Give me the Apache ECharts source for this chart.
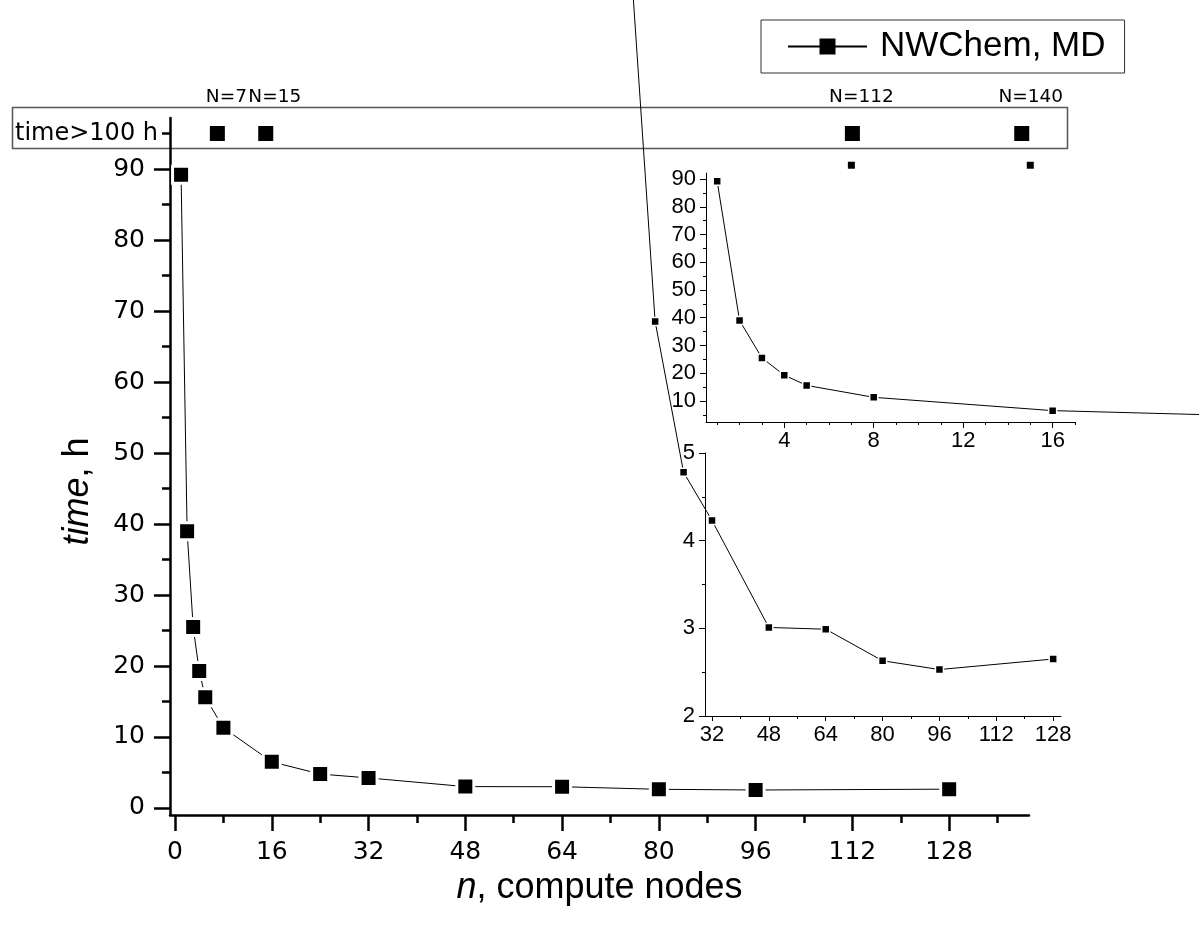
<!DOCTYPE html>
<html>
<head>
<meta charset="utf-8">
<script src="https://cdn.jsdelivr.net/npm/echarts@6/dist/echarts.min.js"></script>
<style>html,body{margin:0;padding:0;background:#fff}#c{width:1199px;height:929px}</style>
</head>
<body>
<div id="c"></div>
<script>
// ---- data ----
const seriesName = 'NWChem, MD';
const nodes = [1, 2, 3, 4, 5, 8, 16, 24, 32, 48, 64, 80, 96, 128];
const hours = [89.2, 39.0, 25.5, 19.3, 15.6, 11.3, 6.5, 4.78, 4.23, 3.01, 2.99, 2.63, 2.53, 2.65];
const overNodes = [7, 15, 112, 140];
const overLabels = ['N=7', 'N=15', 'N=112', 'N=140'];
const overLevel = 95;            // plotting level of the "time>100 h" row
const overTickLabel = 'time>100 h';

const mainXMajor = [0, 16, 32, 48, 64, 80, 96, 112, 128];
const mainXMinor = [8, 24, 40, 56, 72, 88, 104, 120, 136];
const mainYMajor = [0, 10, 20, 30, 40, 50, 60, 70, 80, 90];
const mainYMinor = [5, 15, 25, 35, 45, 55, 65, 75, 85, 95];

const topXMajor = [4, 8, 12, 16];
const topXMinor = [1, 2, 3, 5, 6, 7, 9, 10, 11, 13, 14, 15, 17];
const topYMajor = [10, 20, 30, 40, 50, 60, 70, 80, 90];
const topYMinor = [5, 15, 25, 35, 45, 55, 65, 75, 85];

const botXMajor = [32, 48, 64, 80, 96, 112, 128];
const botXMinor = [40, 56, 72, 88, 104, 120];
const botYMajor = [2, 3, 4, 5];
const botYMinor = [2.5, 3.5, 4.5];

// ---- build ----
const pts = nodes.map((n, i) => [n, hours[i]]);
const overPts = overNodes.map((n, i) => ({ name: overLabels[i], value: [n, overLevel] }));

const DV = 'DejaVu Sans';
const LS = 'Liberation Sans, Arial, sans-serif';

// visible inset frames, plus wider hidden frames with the same scale so lines can run past the frame
const TOP = { left: 706, top: 173, width: 369, height: 249, xmin: 0.5, xmax: 17.0, ymin: 2.4, ymax: 92.2 };
const BOT = { left: 705, top: 453, width: 356, height: 263, xmin: 30.03, xmax: 130.2, ymin: 2, ymax: 5 };
function widen(g, left, right) {
  const k = (g.xmax - g.xmin) / g.width;
  return { left: left, top: g.top, width: right - left, height: g.height,
    xmin: g.xmin - (g.left - left) * k, xmax: g.xmax + (right - g.left - g.width) * k, ymin: g.ymin, ymax: g.ymax };
}
const TOPW = widen(TOP, TOP.left, 1199);
const BOTW = widen(BOT, 0, 1199);

function ax(opts) {
  return {
    type: 'value',
    gridIndex: opts.grid,
    position: opts.position,
    min: opts.min, max: opts.max,
    splitLine: { show: false },
    axisLine: { show: opts.line !== false, onZero: false, lineStyle: { color: '#000', width: opts.lw || 1 } },
    axisTick: { show: true, customValues: opts.ticks, length: opts.tl, lineStyle: { color: '#000', width: opts.lw || 1 } },
    axisLabel: opts.labels ? {
      show: true, customValues: opts.labels, margin: opts.margin, color: '#000',
      fontFamily: opts.font, fontSize: opts.fs,
      formatter: opts.fmt || (v => String(v))
    } : { show: false }
  };
}
function hidden(grid, min, max, position) {
  return { type: 'value', gridIndex: grid, position: position, min: min, max: max, show: false, splitLine: { show: false } };
}

const option = {
  animation: false,
  backgroundColor: '#fff',
  grid: [
    { left: 170, top: 118, width: 859, height: 697 },
    { left: TOP.left, top: TOP.top, width: TOP.width, height: TOP.height },
    { left: BOT.left, top: BOT.top, width: BOT.width, height: BOT.height },
    { left: TOPW.left, top: TOPW.top, width: TOPW.width, height: TOPW.height },
    { left: BOTW.left, top: BOTW.top, width: BOTW.width, height: BOTW.height }
  ],
  xAxis: [
    Object.assign(ax({ grid: 0, position: 'bottom', min: -0.83, max: 141.2, ticks: mainXMajor, tl: 16, lw: 2.5, labels: mainXMajor, margin: 25, font: DV, fs: 25 }), {
      name: '{it|n}, compute nodes', nameLocation: 'middle', nameGap: 51,
      nameTextStyle: { color: '#000', fontFamily: LS, fontSize: 36, rich: { it: { fontStyle: 'italic', fontFamily: LS, fontSize: 36, color: '#000' } } }
    }),
    ax({ grid: 0, position: 'bottom', min: -0.83, max: 141.2, ticks: mainXMinor, tl: 8, lw: 2.5, line: false }),
    ax({ grid: 1, position: 'bottom', min: TOP.xmin, max: TOP.xmax, ticks: topXMajor, tl: 6, lw: 1, labels: topXMajor, margin: 8, font: LS, fs: 22 }),
    ax({ grid: 1, position: 'bottom', min: TOP.xmin, max: TOP.xmax, ticks: topXMinor, tl: 3, lw: 1, line: false }),
    ax({ grid: 2, position: 'bottom', min: BOT.xmin, max: BOT.xmax, ticks: botXMajor, tl: 5, lw: 1, labels: botXMajor, margin: 8, font: LS, fs: 22 }),
    ax({ grid: 2, position: 'bottom', min: BOT.xmin, max: BOT.xmax, ticks: botXMinor, tl: 3, lw: 1, line: false }),
    hidden(3, TOPW.xmin, TOPW.xmax, 'bottom'),
    hidden(4, BOTW.xmin, BOTW.xmax, 'bottom')
  ],
  yAxis: [
    Object.assign(ax({ grid: 0, position: 'left', min: -0.99, max: 97.2, ticks: mainYMajor, tl: 16, lw: 2.5, labels: mainYMajor, margin: 25, font: DV, fs: 25 }), {
      name: '{it|time}, h', nameLocation: 'middle', nameRotate: 90, nameGap: 74,
      nameTextStyle: { color: '#000', fontFamily: LS, fontSize: 36, padding: [0, 50, 0, 0], rich: { it: { fontStyle: 'italic', fontFamily: LS, fontSize: 36, color: '#000' } } }
    }),
    ax({ grid: 0, position: 'left', min: -0.99, max: 97.2, ticks: mainYMinor, tl: 8, lw: 2.5, line: false, labels: [overLevel], margin: 12, font: DV, fs: 24, fmt: () => overTickLabel }),
    ax({ grid: 1, position: 'left', min: TOP.ymin, max: TOP.ymax, ticks: topYMajor, tl: 6, lw: 1, labels: topYMajor, margin: 10, font: LS, fs: 22 }),
    ax({ grid: 1, position: 'left', min: TOP.ymin, max: TOP.ymax, ticks: topYMinor, tl: 3, lw: 1, line: false }),
    ax({ grid: 2, position: 'left', min: BOT.ymin, max: BOT.ymax, ticks: botYMajor, tl: 6, lw: 1, labels: botYMajor, margin: 10, font: LS, fs: 22 }),
    ax({ grid: 2, position: 'left', min: BOT.ymin, max: BOT.ymax, ticks: botYMinor, tl: 3, lw: 1, line: false }),
    hidden(3, TOPW.ymin, TOPW.ymax, 'left'),
    hidden(4, BOTW.ymin, BOTW.ymax, 'left')
  ],
  legend: {
    data: [seriesName],
    left: 761, top: 20,
    padding: [9, 19, 9, 26],
    borderColor: '#333', borderWidth: 1,
    itemWidth: 79, itemHeight: 20,
    itemStyle: { borderWidth: 0 },
    textStyle: { fontFamily: LS, fontSize: 35, color: '#000', padding: [0, 0, 0, 8] }
  },
  graphic: [
    { type: 'rect', z: -1, shape: { x: 12.5, y: 107.5, width: 1055, height: 41 }, style: { fill: 'none', stroke: '#555', lineWidth: 1.5 } }
  ],
  series: [
    {
      name: seriesName, type: 'line', xAxisIndex: 0, yAxisIndex: 0, data: pts,
      symbol: 'rect', symbolSize: 17,
      itemStyle: { color: '#000', borderColor: '#fff', borderWidth: 3 },
      lineStyle: { color: '#000', width: 1 }, z: 3
    },
    {
      name: 'over', type: 'scatter', xAxisIndex: 0, yAxisIndex: 0, data: overPts, clip: false,
      symbol: 'rect', symbolSize: 17,
      itemStyle: { color: '#000', opacity: 1, borderColor: '#fff', borderWidth: 2 },
      label: { show: true, position: 'top', distance: 17, offset: [9, 0], formatter: p => p.name, color: '#000', fontFamily: DV, fontSize: 18.5 }
    },
    {
      name: 'inset-top', type: 'line', xAxisIndex: 6, yAxisIndex: 6, data: pts, clip: false,
      symbol: 'rect', symbolSize: 8,
      itemStyle: { color: '#000', borderColor: '#fff', borderWidth: 1.5 },
      lineStyle: { color: '#000', width: 1 }
    },
    {
      name: 'inset-top-over', type: 'scatter', xAxisIndex: 6, yAxisIndex: 6, data: overPts, clip: false,
      symbol: 'rect', symbolSize: 7, itemStyle: { color: '#000', opacity: 1 }
    },
    {
      name: 'inset-bottom', type: 'line', xAxisIndex: 7, yAxisIndex: 7, data: pts, clip: false,
      symbol: 'rect', symbolSize: 8,
      itemStyle: { color: '#000', borderColor: '#fff', borderWidth: 1.5 },
      lineStyle: { color: '#000', width: 1 }
    }
  ]
};

const chart = echarts.init(document.getElementById('c'), null, { renderer: 'canvas' });
chart.setOption(option);
</script>
</body>
</html>
